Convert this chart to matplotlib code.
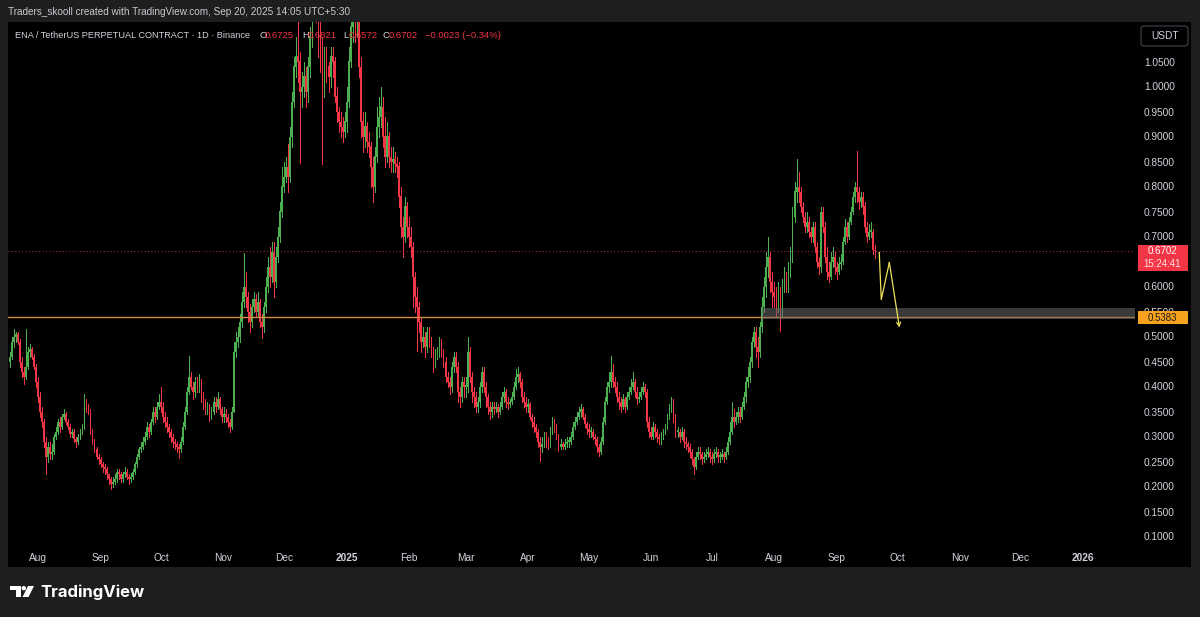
import datetime as dt
import matplotlib
matplotlib.use('Agg')
import matplotlib.pyplot as plt
import matplotlib.dates as mdates
from matplotlib.patches import Rectangle, FancyBboxPatch, Polygon, Circle

plt.rcParams['font.family'] = ['Liberation Sans', 'DejaVu Sans']

# daily ENA/USDT candles, 18 Jul 2024 .. 20 Sep 2025 (open = previous close)
first_date = dt.date(2024, 7, 18)
first_open = 0.45

closes = [
    # Jul 2024
    0.46, 0.49, 0.50, 0.505, 0.49, 0.45, 0.43, 0.42, 0.44, 0.47, 0.475, 0.46, 0.44, 0.41,
    # Aug
    0.38, 0.35, 0.33, 0.29, 0.26, 0.28, 0.265, 0.27, 0.30, 0.31, 0.33, 0.32, 0.34, 0.345, 0.33, 0.32,
    0.305, 0.31, 0.295, 0.29, 0.30, 0.31, 0.32, 0.365, 0.36, 0.35, 0.31, 0.29, 0.275, 0.26, 0.255,
    # Sep
    0.245, 0.24, 0.235, 0.225, 0.215, 0.205, 0.21, 0.215, 0.23, 0.225, 0.215, 0.225, 0.23, 0.22, 0.215,
    0.22, 0.23, 0.245, 0.26, 0.275, 0.28, 0.29, 0.30, 0.32, 0.31, 0.33, 0.35, 0.34, 0.36, 0.37,
    # Oct
    0.36, 0.34, 0.33, 0.32, 0.31, 0.30, 0.29, 0.285, 0.28, 0.275, 0.29, 0.32, 0.35, 0.39, 0.42, 0.40,
    0.39, 0.41, 0.40, 0.41, 0.38, 0.37, 0.355, 0.36, 0.34, 0.35, 0.37, 0.36, 0.375, 0.355, 0.34,
    # Nov
    0.345, 0.34, 0.33, 0.32, 0.35, 0.47, 0.49, 0.50, 0.53, 0.57, 0.60, 0.58, 0.55, 0.53, 0.56,
    0.575, 0.55, 0.57, 0.53, 0.52, 0.56, 0.60, 0.64, 0.62, 0.67, 0.61, 0.66, 0.70, 0.75, 0.80,
    # Dec
    0.82, 0.84, 0.82, 0.90, 0.97, 1.04, 1.06, 1.05, 0.99, 1.00, 1.02, 0.99, 1.04, 1.10, 1.16, 1.22,
    1.18, 1.12, 1.08, 1.00, 1.05, 1.04, 1.02, 1.06, 1.05, 0.98, 0.95, 0.93, 0.92, 0.91, 0.93,
    # Jan 2025
    0.97, 1.05, 1.12, 1.14, 1.13, 1.16, 1.04, 0.93, 0.90, 0.92, 0.89, 0.88, 0.84, 0.80, 0.86, 0.92,
    0.94, 0.96, 0.90, 0.86, 0.90, 0.86, 0.85, 0.855, 0.845, 0.84, 0.78, 0.72, 0.70, 0.76, 0.72,
    # Feb
    0.70, 0.68, 0.62, 0.58, 0.56, 0.53, 0.49, 0.50, 0.48, 0.51, 0.49, 0.47, 0.45, 0.46,
    0.47, 0.49, 0.47, 0.45, 0.42, 0.41, 0.40, 0.44, 0.46, 0.44, 0.39, 0.38, 0.41, 0.40,
    # Mar
    0.40, 0.47, 0.42, 0.39, 0.38, 0.36, 0.37, 0.40, 0.43, 0.40, 0.38, 0.36, 0.35, 0.36, 0.355, 0.36,
    0.35, 0.36, 0.38, 0.39, 0.37, 0.365, 0.37, 0.38, 0.40, 0.42, 0.425, 0.41, 0.38, 0.37, 0.36,
    # Apr
    0.365, 0.34, 0.33, 0.32, 0.31, 0.29, 0.28, 0.285, 0.30, 0.29, 0.285, 0.31, 0.33, 0.32, 0.30,
    0.28, 0.285, 0.28, 0.285, 0.29, 0.29, 0.30, 0.32, 0.33, 0.34, 0.35, 0.355, 0.34, 0.325, 0.315,
    # May
    0.31, 0.31, 0.30, 0.295, 0.28, 0.27, 0.29, 0.33, 0.37, 0.40, 0.41, 0.43, 0.41, 0.40, 0.38, 0.37,
    0.36, 0.375, 0.36, 0.38, 0.39, 0.40, 0.41, 0.39, 0.375, 0.38, 0.39, 0.40, 0.39, 0.33, 0.31,
    # Jun
    0.30, 0.32, 0.31, 0.30, 0.295, 0.30, 0.31, 0.32, 0.34, 0.36, 0.37, 0.34, 0.31, 0.31, 0.30,
    0.31, 0.29, 0.285, 0.28, 0.27, 0.255, 0.24, 0.26, 0.27, 0.265, 0.255, 0.26, 0.265, 0.27, 0.26,
    # Jul
    0.255, 0.265, 0.27, 0.26, 0.26, 0.265, 0.26, 0.27, 0.29, 0.31, 0.34, 0.33, 0.34, 0.35, 0.34, 0.36,
    0.38, 0.41, 0.42, 0.45, 0.49, 0.51, 0.48, 0.47, 0.52, 0.56, 0.60, 0.64, 0.66, 0.61, 0.59,
    # Aug
    0.58, 0.56, 0.59, 0.55, 0.60, 0.62, 0.60, 0.63, 0.66, 0.74, 0.79, 0.80, 0.79, 0.76, 0.74, 0.72,
    0.73, 0.71, 0.70, 0.72, 0.68, 0.65, 0.64, 0.75, 0.72, 0.66, 0.63, 0.62, 0.65, 0.66, 0.64,
    # Sep
    0.63, 0.645, 0.65, 0.69, 0.72, 0.70, 0.73, 0.75, 0.78, 0.80, 0.79, 0.77, 0.78, 0.76, 0.72,
    0.70, 0.71, 0.71, 0.6725, 0.6702,
]

highs = [
    0.47, 0.50, 0.515, 0.51, 0.51, 0.495, 0.46, 0.44, 0.515, 0.48, 0.485, 0.48, 0.465, 0.445,
    0.42, 0.39, 0.36, 0.335, 0.30, 0.29, 0.29, 0.285, 0.305, 0.32, 0.335, 0.34, 0.345, 0.355, 0.35, 0.335,
    0.325, 0.315, 0.315, 0.30, 0.305, 0.315, 0.325, 0.386, 0.375, 0.365, 0.355, 0.315, 0.295, 0.28, 0.265,
    0.26, 0.25, 0.245, 0.24, 0.225, 0.22, 0.22, 0.225, 0.235, 0.235, 0.23, 0.23, 0.24, 0.235, 0.225,
    0.228, 0.235, 0.25, 0.265, 0.28, 0.29, 0.30, 0.31, 0.33, 0.325, 0.335, 0.36, 0.36, 0.37, 0.385,
    0.40, 0.37, 0.35, 0.34, 0.325, 0.315, 0.305, 0.295, 0.29, 0.285, 0.30, 0.33, 0.36, 0.40, 0.462, 0.43,
    0.41, 0.42, 0.42, 0.425, 0.415, 0.39, 0.375, 0.37, 0.365, 0.36, 0.38, 0.38, 0.39, 0.38, 0.36,
    0.36, 0.355, 0.345, 0.335, 0.36, 0.49, 0.51, 0.52, 0.545, 0.59, 0.668, 0.63, 0.59, 0.565, 0.575,
    0.59, 0.585, 0.59, 0.575, 0.545, 0.57, 0.62, 0.66, 0.68, 0.69, 0.69, 0.68, 0.72, 0.77, 0.84,
    0.85, 0.86, 0.886, 0.92, 0.99, 1.06, 1.10, 1.13, 1.07, 1.03, 1.05, 1.04, 1.06, 1.12, 1.20, 1.30,
    1.26, 1.20, 1.15, 1.10, 1.08, 1.08, 1.05, 1.08, 1.08, 1.06, 1.00, 0.96, 0.95, 0.94, 0.95,
    1.00, 1.08, 1.15, 1.18, 1.17, 1.22, 1.18, 1.06, 0.95, 0.95, 0.93, 0.91, 0.89, 0.86, 0.88, 0.96,
    0.98, 1.00, 0.98, 0.94, 0.93, 0.91, 0.88, 0.88, 0.87, 0.86, 0.85, 0.80, 0.74, 0.78, 0.77,
    0.74, 0.72, 0.69, 0.63, 0.60, 0.57, 0.54, 0.52, 0.51, 0.52, 0.52, 0.50, 0.48, 0.475,
    0.48, 0.50, 0.495, 0.475, 0.46, 0.43, 0.42, 0.45, 0.47, 0.47, 0.45, 0.40, 0.42, 0.42,
    0.42, 0.50, 0.48, 0.43, 0.40, 0.39, 0.38, 0.41, 0.44, 0.44, 0.41, 0.385, 0.37, 0.37, 0.37, 0.37,
    0.365, 0.37, 0.39, 0.40, 0.395, 0.38, 0.375, 0.39, 0.41, 0.435, 0.44, 0.43, 0.415, 0.39, 0.38,
    0.375, 0.37, 0.345, 0.34, 0.325, 0.315, 0.30, 0.30, 0.31, 0.31, 0.30, 0.32, 0.34, 0.335, 0.325,
    0.305, 0.295, 0.29, 0.295, 0.30, 0.30, 0.31, 0.33, 0.34, 0.35, 0.36, 0.365, 0.36, 0.345, 0.33,
    0.325, 0.32, 0.315, 0.305, 0.30, 0.285, 0.30, 0.34, 0.38, 0.41, 0.43, 0.462, 0.445, 0.42, 0.41, 0.39,
    0.38, 0.385, 0.38, 0.39, 0.40, 0.415, 0.43, 0.415, 0.40, 0.39, 0.40, 0.41, 0.405, 0.395, 0.34,
    0.32, 0.33, 0.325, 0.315, 0.305, 0.31, 0.315, 0.325, 0.345, 0.365, 0.38, 0.375, 0.345, 0.32, 0.315,
    0.32, 0.315, 0.30, 0.29, 0.285, 0.275, 0.26, 0.27, 0.28, 0.28, 0.27, 0.27, 0.275, 0.28, 0.275,
    0.27, 0.275, 0.28, 0.275, 0.27, 0.275, 0.27, 0.28, 0.30, 0.33, 0.37, 0.355, 0.35, 0.36, 0.36, 0.37,
    0.39, 0.42, 0.44, 0.46, 0.50, 0.52, 0.52, 0.50, 0.53, 0.58, 0.62, 0.67, 0.70, 0.67, 0.63,
    0.61, 0.60, 0.61, 0.60, 0.615, 0.64, 0.63, 0.65, 0.68, 0.76, 0.81, 0.855, 0.83, 0.80, 0.77, 0.75,
    0.75, 0.74, 0.72, 0.73, 0.73, 0.69, 0.66, 0.76, 0.76, 0.73, 0.68, 0.65, 0.67, 0.68, 0.67,
    0.65, 0.66, 0.665, 0.70, 0.735, 0.73, 0.74, 0.76, 0.79, 0.81, 0.872, 0.80, 0.79, 0.79, 0.77,
    0.73, 0.725, 0.73, 0.715, 0.6821,
]

lows = [
    0.44, 0.455, 0.48, 0.49, 0.485, 0.44, 0.42, 0.405, 0.415, 0.435, 0.46, 0.455, 0.435, 0.40,
    0.37, 0.34, 0.32, 0.28, 0.225, 0.25, 0.255, 0.255, 0.265, 0.295, 0.305, 0.31, 0.315, 0.335, 0.325, 0.315,
    0.30, 0.30, 0.29, 0.28, 0.285, 0.295, 0.305, 0.315, 0.35, 0.345, 0.305, 0.285, 0.27, 0.255, 0.245,
    0.24, 0.23, 0.225, 0.215, 0.205, 0.195, 0.20, 0.205, 0.21, 0.215, 0.21, 0.21, 0.22, 0.215, 0.205,
    0.21, 0.215, 0.225, 0.24, 0.255, 0.27, 0.275, 0.285, 0.295, 0.30, 0.305, 0.325, 0.33, 0.335, 0.355,
    0.35, 0.33, 0.32, 0.31, 0.30, 0.29, 0.28, 0.275, 0.27, 0.258, 0.27, 0.285, 0.315, 0.345, 0.385, 0.395,
    0.375, 0.38, 0.39, 0.39, 0.37, 0.355, 0.345, 0.345, 0.332, 0.335, 0.345, 0.35, 0.355, 0.345, 0.33,
    0.33, 0.33, 0.32, 0.31, 0.315, 0.35, 0.46, 0.48, 0.49, 0.52, 0.56, 0.56, 0.53, 0.51, 0.52,
    0.55, 0.54, 0.54, 0.52, 0.498, 0.51, 0.55, 0.59, 0.60, 0.61, 0.58, 0.60, 0.65, 0.69, 0.74,
    0.79, 0.81, 0.79, 0.81, 0.88, 0.96, 1.02, 1.01, 0.848, 0.96, 0.98, 0.96, 0.97, 1.02, 1.08, 1.14,
    1.13, 1.06, 1.03, 0.846, 0.98, 1.01, 0.99, 1.00, 1.02, 0.97, 0.93, 0.91, 0.90, 0.89, 0.90,
    0.91, 0.96, 1.04, 1.09, 1.09, 1.10, 1.02, 0.90, 0.87, 0.88, 0.87, 0.86, 0.80, 0.77, 0.79, 0.85,
    0.90, 0.92, 0.88, 0.84, 0.85, 0.84, 0.83, 0.83, 0.83, 0.82, 0.76, 0.70, 0.66, 0.69, 0.70,
    0.68, 0.66, 0.56, 0.55, 0.472, 0.51, 0.47, 0.48, 0.46, 0.47, 0.48, 0.46, 0.43, 0.44,
    0.455, 0.46, 0.46, 0.44, 0.41, 0.40, 0.385, 0.39, 0.43, 0.43, 0.37, 0.36, 0.37, 0.38,
    0.38, 0.39, 0.41, 0.37, 0.36, 0.35, 0.35, 0.36, 0.39, 0.39, 0.36, 0.345, 0.335, 0.34, 0.345, 0.35,
    0.34, 0.345, 0.355, 0.37, 0.36, 0.355, 0.36, 0.365, 0.375, 0.395, 0.41, 0.40, 0.37, 0.36, 0.35,
    0.35, 0.335, 0.32, 0.31, 0.30, 0.28, 0.252, 0.27, 0.28, 0.28, 0.275, 0.28, 0.305, 0.31, 0.295,
    0.272, 0.275, 0.275, 0.275, 0.28, 0.28, 0.285, 0.295, 0.315, 0.325, 0.335, 0.34, 0.335, 0.32, 0.305,
    0.30, 0.30, 0.295, 0.285, 0.27, 0.262, 0.265, 0.285, 0.325, 0.365, 0.39, 0.40, 0.40, 0.39, 0.37, 0.355,
    0.35, 0.355, 0.35, 0.355, 0.375, 0.385, 0.395, 0.38, 0.365, 0.37, 0.375, 0.385, 0.38, 0.32, 0.30,
    0.295, 0.295, 0.30, 0.29, 0.285, 0.285, 0.295, 0.305, 0.315, 0.335, 0.35, 0.33, 0.30, 0.30, 0.29,
    0.295, 0.28, 0.275, 0.27, 0.26, 0.245, 0.225, 0.235, 0.255, 0.255, 0.245, 0.25, 0.255, 0.26, 0.25,
    0.245, 0.25, 0.26, 0.25, 0.25, 0.255, 0.25, 0.255, 0.265, 0.285, 0.305, 0.32, 0.325, 0.33, 0.33, 0.335,
    0.355, 0.37, 0.40, 0.41, 0.44, 0.48, 0.46, 0.44, 0.46, 0.51, 0.55, 0.58, 0.62, 0.59, 0.56,
    0.56, 0.54, 0.55, 0.512, 0.54, 0.59, 0.59, 0.59, 0.62, 0.65, 0.73, 0.77, 0.77, 0.75, 0.73, 0.71,
    0.71, 0.70, 0.69, 0.69, 0.67, 0.64, 0.625, 0.63, 0.71, 0.65, 0.615, 0.61, 0.615, 0.64, 0.625,
    0.615, 0.625, 0.635, 0.645, 0.685, 0.69, 0.695, 0.725, 0.745, 0.77, 0.77, 0.755, 0.76, 0.745, 0.71,
    0.69, 0.695, 0.70, 0.665, 0.6572,
]

last_price = 0.6702
level_price = 0.5383
zone_low, zone_high = 0.536, 0.558
zone_start = dt.date(2025, 7, 26)

# hand-drawn projection path
path_dates = [dt.date(2025, 9, 22), dt.date(2025, 9, 23), dt.date(2025, 9, 27), dt.date(2025, 10, 2)]
path_prices = [0.668, 0.574, 0.648, 0.518]

price_ticks = [0.10, 0.15, 0.20, 0.25, 0.30, 0.35, 0.40, 0.45, 0.50, 0.55,
               0.60, 0.65, 0.70, 0.75, 0.80, 0.85, 0.90, 0.95, 1.00, 1.05]
month_ticks = [dt.date(2024, m, 1) for m in range(8, 13)] + \
              [dt.date(2025, m, 1) for m in range(1, 13)] + [dt.date(2026, 1, 1)]
month_labels = ['Aug', 'Sep', 'Oct', 'Nov', 'Dec', '2025', 'Feb', 'Mar', 'Apr', 'May',
                'Jun', 'Jul', 'Aug', 'Sep', 'Oct', 'Nov', 'Dec', '2026']

UP, DOWN = '#4caf50', '#f23645'
TXT = '#d1d4dc'
W, H = 1200, 617

fig = plt.figure(figsize=(W / 100, H / 100), dpi=100, facecolor='#1e1e1e')
panel = Rectangle((8 / W, 1 - 567 / H), 1183 / W, 545 / H,
                  transform=fig.transFigure, facecolor='black', zorder=-10)
fig.add_artist(panel)

ax = fig.add_axes([8 / W, 1 - 545 / H, 1127 / W, 523 / H], zorder=1)
ax.set_facecolor('black')
for s in ax.spines.values():
    s.set_visible(False)

dates = [first_date + dt.timedelta(days=i) for i in range(len(closes))]
x = mdates.date2num(dates)
opens = [first_open] + closes[:-1]
tops = [max(h, o, c) for h, o, c in zip(highs, opens, closes)]
bots = [min(l, o, c) for l, o, c in zip(lows, opens, closes)]
colors = [UP if c >= o else DOWN for o, c in zip(opens, closes)]

ax.vlines(x, bots, tops, colors=colors, linewidth=0.72, antialiased=False, zorder=3)
ax.bar(x, [max(abs(c - o), 0.003) for o, c in zip(opens, closes)],
       bottom=[min(o, c) for o, c in zip(opens, closes)],
       width=0.85, color=colors, linewidth=0, antialiased=False, zorder=3)

# reference lines and zone
ax.axhline(last_price, color=DOWN, linewidth=0.7, linestyle=(0, (1, 2.5)), alpha=0.8, zorder=2)
ax.axhline(level_price, color='#d48a45', linewidth=1.0, zorder=4)

aug1 = mdates.date2num(dt.date(2024, 8, 1))
px_day = (1083 - 38) / 518
xmin, xmax = aug1 - 30 / px_day, aug1 + 1097 / px_day
ax.set_xlim(xmin, xmax)
ax.set_ylim(0.1 - 8.5 / 500, 0.1 + 514.5 / 500)

zx = mdates.date2num(zone_start)
ax.add_patch(Rectangle((zx, zone_low), xmax - zx, zone_high - zone_low,
                       facecolor='#6a6a6a', alpha=0.55, edgecolor='none', zorder=5))

px = mdates.date2num(path_dates)
ax.plot(px[:-1], path_prices[:-1], color='#f0e35a', linewidth=0.9, zorder=6)
ax.annotate('', xy=(px[-1], path_prices[-1]), xytext=(px[-2], path_prices[-2]),
            arrowprops=dict(arrowstyle='->', color='#f0e35a', lw=0.9,
                            shrinkA=0, shrinkB=0, mutation_scale=7), zorder=6)

# axes ticks
ax.yaxis.tick_right()
ax.set_yticks(price_ticks)
ax.set_yticklabels([f'{v:.4f}' for v in price_ticks])
ax.tick_params(axis='y', length=0, pad=6.5, labelsize=7.3, labelcolor=TXT)
ax.set_xticks(mdates.date2num(month_ticks))
ax.set_xticklabels(month_labels)
ax.tick_params(axis='x', length=0, pad=6, labelsize=7.3, labelcolor=TXT)
for lab in ax.get_xticklabels():
    if lab.get_text() in ('2025', '2026'):
        lab.set_fontweight('bold')

# overlay in pixel coordinates for the TradingView furniture
ov = fig.add_axes([0, 0, 1, 1], zorder=10)
ov.set_xlim(0, W)
ov.set_ylim(H, 0)
ov.axis('off')
ov.patch.set_visible(False)

def price_px(p):
    return H - ax.transData.transform((xmin, p))[1]

ov.text(8, 12, 'Traders_skooll created with TradingView.com, Sep 20, 2025 14:05 UTC+5:30',
        color='#c8cad0', fontsize=7.2, va='center', ha='left')

ov.text(15, 36, 'ENA / TetherUS PERPETUAL CONTRACT · 1D · Binance', color=TXT,
        fontsize=6.6, va='center')
legend_parts = [(259, 'O', TXT), (264.5, '0.6725', DOWN), (302, 'H', TXT), (308, '0.6821', DOWN),
                (343.5, 'L', TXT), (349, '0.6572', DOWN), (382.5, 'C', TXT), (388.5, '0.6702', DOWN),
                (425, '\u22120.0023 (\u22120.34%)', DOWN)]
for lx, s, c in legend_parts:
    ov.text(lx, 36, s, color=c, fontsize=6.8, va='center')

# USDT box
ov.add_patch(FancyBboxPatch((1141, 26), 47, 20, boxstyle='round,pad=0,rounding_size=3',
                            facecolor='black', edgecolor='#434651', linewidth=0.8))
ov.text(1164.5, 36, 'USDT', color=TXT, fontsize=7.3, ha='center', va='center')

# last price label
yl = price_px(last_price)
ov.add_patch(Rectangle((1138, yl - 6.5), 50, 26, facecolor='#f23645', edgecolor='none'))
ov.text(1162, yl, f'{last_price:.4f}', color='white', fontsize=7.0, ha='center', va='center')
ov.text(1162, yl + 12.5, '15:24:41', color='#ffe3e6', fontsize=7.0, ha='center', va='center')

# level label
yo = price_px(level_price)
ov.add_patch(Rectangle((1138, yo - 6.5), 50, 13.5, facecolor='#f7a21e', edgecolor='none'))
ov.text(1162, yo + 0.3, f'{level_price:.4f}', color='#1a1a1a', fontsize=7.0, ha='center', va='center')

# TradingView logo
ov.add_patch(Polygon([(10, 586), (21, 586), (21, 597), (16, 597), (16, 590), (10, 590)],
                     facecolor='white', edgecolor='none'))
ov.add_patch(Circle((23.8, 588.2), 2.2, facecolor='white', edgecolor='none'))
ov.add_patch(Polygon([(28, 586), (34, 586), (28.5, 597), (22.5, 597)],
                     facecolor='white', edgecolor='none'))
ov.text(40, 592, 'TradingView', color='white', fontsize=12, fontweight='bold',
        family=['Inter', 'DejaVu Sans'], va='center', ha='left')

fig.savefig('out.png', dpi=100, facecolor=fig.get_facecolor())
